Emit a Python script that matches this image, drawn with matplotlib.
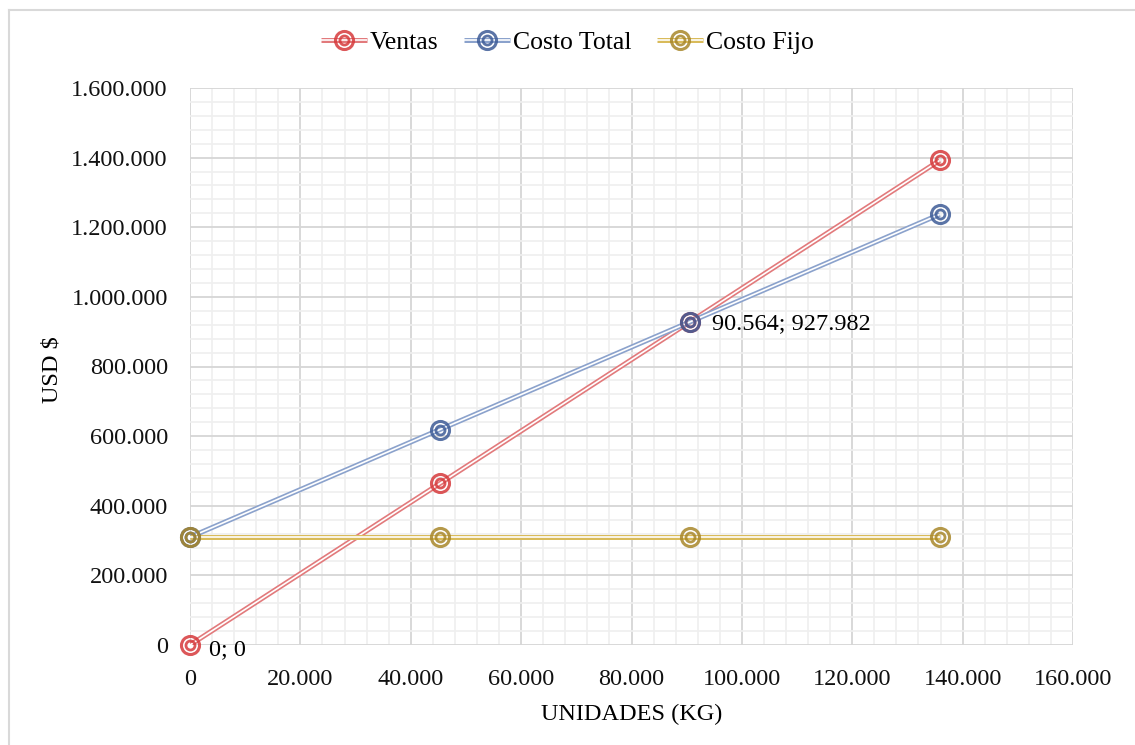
import numpy as np
import matplotlib
matplotlib.use("Agg")
import matplotlib.pyplot as plt
from matplotlib.lines import Line2D
from matplotlib.legend_handler import HandlerTuple
from matplotlib.ticker import MultipleLocator, FuncFormatter

# unidades (kg) y montos en USD
unidades = [0, 45282, 90564, 135846]
ventas = [0, 463991, 927982, 1391973]
costo_total = [310000, 618991, 927982, 1236973]
costo_fijo = [310000, 310000, 310000, 310000]

series = [
    ("Ventas", ventas, "#d63a3c", "#e27a7c"),
    ("Costo Total", costo_total, "#3e5c97", "#8ba2cc"),
    ("Costo Fijo", costo_fijo, "#a8872a", "#d9bb5a"),
]

plt.rcParams['font.family'] = ['Liberation Serif', 'DejaVu Serif']

fig = plt.figure(figsize=(11.35, 7.45), dpi=100)
ax = fig.add_axes([190/1135, 100/745, 883/1135, 557/745])

def miles(v, pos):
    return f"{int(round(v)):,}".replace(",", ".")

ax.set_xlim(0, 160000)
ax.set_ylim(0, 1600000)
ax.xaxis.set_major_locator(MultipleLocator(20000))
ax.xaxis.set_minor_locator(MultipleLocator(4000))
ax.yaxis.set_major_locator(MultipleLocator(200000))
ax.yaxis.set_minor_locator(MultipleLocator(40000))
ax.xaxis.set_major_formatter(FuncFormatter(miles))
ax.yaxis.set_major_formatter(FuncFormatter(miles))
ax.grid(which="minor", color="#efefef", lw=1.2, zorder=0)
ax.grid(which="major", color="#d6d6d6", lw=1.3, zorder=0)
ax.set_axisbelow(True)
for s in ax.spines.values():
    s.set_visible(False)
ax.tick_params(which="both", length=0, labelsize=17.5, colors="#111111")
ax.tick_params(axis="x", pad=17)
ax.tick_params(axis="y", pad=16)


def dibujar_serie(ys, c_dark, c_line):
    # linea doble: trazo de color con centro blanco
    a, = ax.plot(unidades, ys, color=c_line, lw=3.6, zorder=3, solid_capstyle="butt")
    b, = ax.plot(unidades, ys, color="white", lw=1.2, zorder=3, solid_capstyle="butt")
    c, = ax.plot(unidades, ys, ls="none", marker="o", ms=13, mfc="none", mec=c_dark,
                 mew=2.2, alpha=0.85, zorder=4, clip_on=False)
    d, = ax.plot(unidades, ys, ls="none", marker="o", ms=6.5, mfc="none", mec=c_dark,
                 mew=2.0, alpha=0.85, zorder=4, clip_on=False)
    return (a, b, c, d)


grupos = []
nombres = []
for nombre, ys, c_dark, c_line in series:
    grupos.append(dibujar_serie(ys, c_dark, c_line))
    nombres.append(nombre)

ax.annotate("90.564; 927.982", (unidades[2], ventas[2]), xytext=(16, -1),
            textcoords="offset points", fontsize=17.5, va="center", ha="left")
ax.annotate("0; 0", (unidades[0], ventas[0]), xytext=(14, -3),
            textcoords="offset points", fontsize=17.5, va="center", ha="left",
            annotation_clip=False)

ax.set_xlabel("UNIDADES (KG)", fontsize=17.5)
ax.set_ylabel("USD $", fontsize=17.5)
ax.xaxis.set_label_coords(0.5, -0.106)
ax.yaxis.set_label_coords(-0.144, 0.494)

leg = fig.legend(grupos, nombres, handler_map={tuple: HandlerTuple(ndivide=1, pad=0)},
                 loc="center", bbox_to_anchor=(0.5, 1 - 43/745),
                 ncol=3, frameon=False, fontsize=18.5, handlelength=1.8,
                 columnspacing=1.0, handletextpad=0.1)

# borde del grafico
fig.add_artist(Line2D([9/1135, 9/1135], [0, 1 - 10/745], color="#d9d9d9", lw=1.5))
fig.add_artist(Line2D([9/1135, 1], [1 - 10/745, 1 - 10/745], color="#d9d9d9", lw=1.5))

fig.savefig("out.png", dpi=100)
